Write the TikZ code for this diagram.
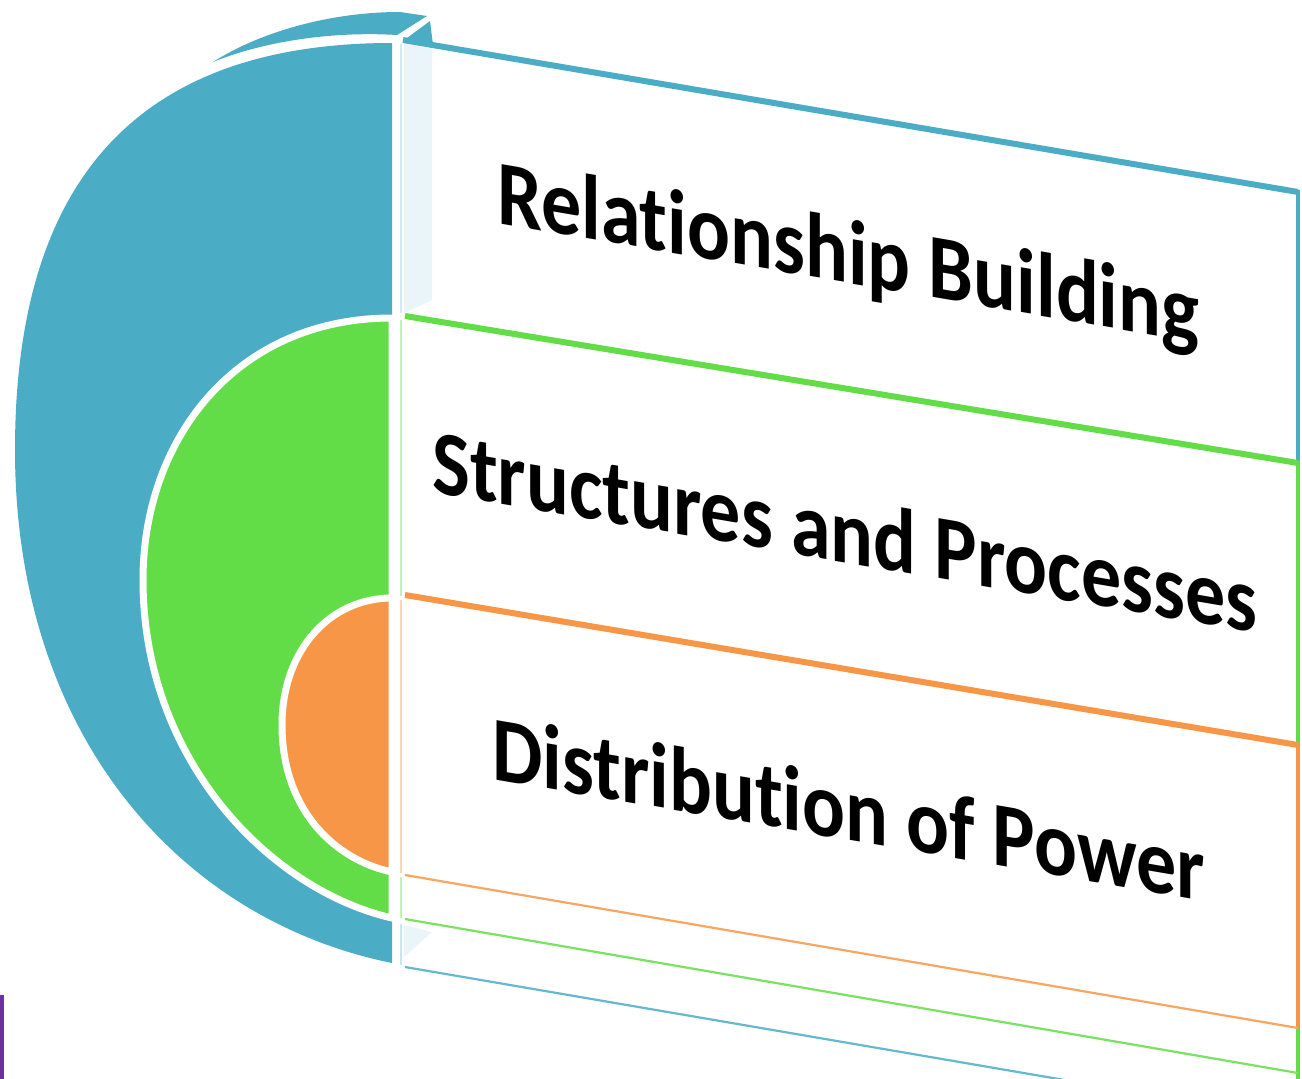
\documentclass[tikz,border=0pt]{standalone}
\usepackage{fontspec}
\setmainfont{Carlito}[Ligatures={NoCommon,NoContextual}, RawFeature={-liga;-clig;-dlig}]
\definecolor{cblue}{HTML}{4BACC6}
\definecolor{cgreen}{HTML}{62DD48}
\definecolor{corange}{HTML}{F79646}
\definecolor{cpurple}{HTML}{7030A0}
\definecolor{cstrip}{HTML}{EAF5F9}
\begin{document}
\begin{tikzpicture}[x=1pt,y=-1pt,
  lbl/.style={font=\fontsize{80}{96}\selectfont\bfseries, anchor=base west,
    inner sep=0pt, yslant=-0.171, yscale=1.15, text=black},
  topline/.style={line width=6pt},
  sideline/.style={line width=3.5pt},
  thinline/.style={line width=2.2pt},
  vline/.style={line width=2pt},
  disk/.style={draw=white, line width=7pt}]
\useasboundingbox (0,0) rectangle (1302,1079);
\clip (0,0) rectangle (1302,1079);
\fill[white] (0,0) rectangle (1302,1079);

% outer blue half disk and its top crescent
\fill[cblue] (392,43) .. controls (120,43) and (15,200) .. (15,450)
  .. controls (15,735) and (180,920) .. (392,963) -- cycle;
\fill[cblue] (213,62) .. controls (260,32) and (330,12) .. (400,12) -- (427,16)
  -- (397,35) .. controls (330,31) and (262,42) .. (213,62) -- cycle;

% green and orange half disks
\filldraw[disk, fill=cgreen] (392,318) .. controls (235,318) and (143,440) .. (143,580)
  .. controls (143,760) and (270,890) .. (392,918) -- cycle;
\filldraw[disk, fill=corange] (392,598) .. controls (330,598) and (282,650) .. (282,725)
  .. controls (282,810) and (335,860) .. (392,872) -- cycle;

% light side strips
\fill[cstrip] (404,44) -- (432,48) -- (432,300) -- (404,313) -- cycle;
\fill[cstrip] (404,925) -- (432,932) -- (404,957) -- cycle;

% thin vertical edge
\draw[vline, cblue!25] (401,44) -- (401,313);
\draw[vline, cgreen!40] (401,320) -- (401,596);
\draw[vline, corange!40] (401,600) -- (401,873);
\draw[vline, cgreen!40] (401,877) -- (401,918);
\draw[vline, cblue!30] (401,924) -- (401,965);

% blue corner triangle
\fill[cblue] (403,41) -- (430,21) -- (433,45) -- cycle;

% panel outlines
\draw[topline, cblue] (403,40) -- (1298,192);
\draw[sideline, cblue] (1298,190) -- (1298,465);
\draw[topline, cgreen] (405,316) -- (1298,463);
\draw[sideline, cgreen] (1298,461) -- (1298,1079);
\draw[topline, corange] (405,595) -- (1298,745);
\draw[sideline, corange] (1298,743) -- (1298,1028);
\draw[thinline, corange!85] (405,875) -- (1298,1028);
\draw[thinline, cgreen!85] (405,919) -- (1298,1073);
\draw[thinline, cblue!85] (405,967) -- (1298,1120);

% labels
\node[lbl] (rb) at (497,223) {Relationship Building};
\node[lbl] (sp) at (432,492) {Structures and Processes};
\node[lbl] (dp) at (492,779) {Distribution of Power};

% purple bar at lower left
\fill[cpurple] (0,995) rectangle (4,1079);
\end{tikzpicture}
\end{document}
